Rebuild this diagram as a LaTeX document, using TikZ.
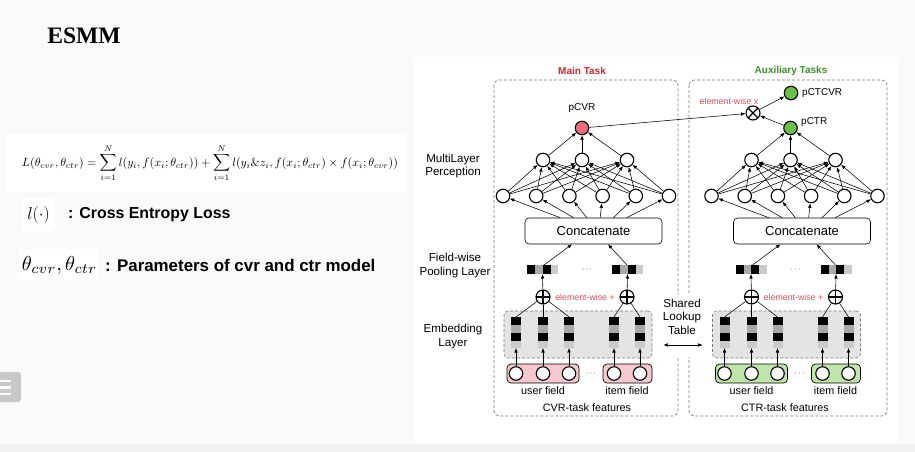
\documentclass[tikz,border=0pt]{standalone}
\usepackage{fontspec}
\usepackage{graphicx}
\usetikzlibrary{arrows.meta,calc}
\newfontfamily\arialf{Liberation Sans}
\newfontfamily\timesf{Liberation Serif}
\definecolor{redtxt}{HTML}{C62A32}
\definecolor{greentxt}{HTML}{3F8E2F}
\definecolor{ewred}{HTML}{E0505E}
\definecolor{nodered}{HTML}{EC6E7C}
\definecolor{nodegreen}{HTML}{6CBF48}
\definecolor{boxpink}{HTML}{F7C9CE}
\definecolor{boxgreen}{HTML}{BFE4AC}
\definecolor{embgray}{HTML}{E4E4E4}
\definecolor{cellA}{HTML}{A9A9A9}
\definecolor{cellB}{HTML}{CACACA}
\definecolor{dashgray}{HTML}{7A7A7A}
\definecolor{pagebg}{HTML}{FAFAFA}
\definecolor{bandbg}{HTML}{F1F1F1}
\definecolor{iconbg}{HTML}{C9C9C9}
\tikzset{
 neuron/.style={circle,draw,line width=1.1pt,minimum size=13.5pt,inner sep=0pt,fill=white},
 conn/.style={line width=0.55pt,-{Latex[length=4.5pt,width=3.6pt]}},
 plainconn/.style={line width=0.55pt},
 sidelbl/.style={font=\arialf\fontsize{11.6}{13.6}\selectfont,align=center,inner sep=0pt},
 smalllbl/.style={font=\arialf\fontsize{10.8}{12}\selectfont,inner sep=0pt},
 outlbl/.style={font=\arialf\fontsize{10}{12}\selectfont,inner sep=0pt},
 ewlbl/.style={font=\arialf\fontsize{8.8}{10}\selectfont,text=ewred,inner sep=0pt},
 tasklbl/.style={font=\arialf\bfseries\fontsize{10}{12}\selectfont,inner sep=0pt},
 taskbox/.style={draw=dashgray,dash pattern=on 3pt off 2pt,line width=0.7pt,rounded corners=5pt},
 concatbox/.style={draw,line width=0.6pt,rounded corners=4pt,minimum width=137pt,minimum height=26pt,font=\arialf\fontsize{13}{15}\selectfont,fill=white,inner sep=0pt},
 oplus/.style={circle,draw,line width=1.1pt,minimum size=14pt,inner sep=0pt,fill=white,path picture={\draw[line width=1.1pt] (path picture bounding box.north) -- (path picture bounding box.south) (path picture bounding box.west) -- (path picture bounding box.east);}},
 otimes/.style={circle,draw,line width=1.1pt,minimum size=14pt,inner sep=0pt,fill=white,path picture={\draw[line width=1.1pt] (path picture bounding box.north west) -- (path picture bounding box.south east) (path picture bounding box.south west) -- (path picture bounding box.north east);}},
 fieldbox/.style={draw,line width=0.7pt,rounded corners=4pt,inner sep=0pt},
 embbox/.style={draw=dashgray,dash pattern=on 3pt off 2pt,line width=0.6pt,rounded corners=4pt,fill=embgray,inner sep=0pt},
 ghost/.style={inner sep=0pt,outer sep=0pt},
 dotslbl/.style={inner sep=0pt,font=\fontsize{8}{8}\selectfont},
}
% vertical embedding column: name, x, top y
\newcommand{\embcol}[3]{%
 \fill[black] (#2-5,#3) rectangle (#2+5,#3+8);
 \fill[cellA] (#2-5,#3+8) rectangle (#2+5,#3+15.5);
 \fill[black] (#2-5,#3+15.5) rectangle (#2+5,#3+23.5);
 \fill[cellB] (#2-5,#3+23.5) rectangle (#2+5,#3+31);
 \node[ghost,minimum width=10pt,minimum height=31pt] (#1) at (#2,#3+15.5) {};}
% horizontal pooled vector: name, left x, top y
\newcommand{\poolvec}[3]{%
 \fill[black] (#2,#3) rectangle (#2+8,#3+9);
 \fill[cellA] (#2+8,#3) rectangle (#2+15.5,#3+9);
 \fill[black] (#2+15.5,#3) rectangle (#2+23.5,#3+9);
 \fill[cellB] (#2+23.5,#3) rectangle (#2+31,#3+9);
 \node[ghost,minimum width=31pt,minimum height=9pt] (#1) at (#2+15.5,#3+4.5) {};}
% one task tower: prefix, x shift, field fill, output fill
\newcommand{\esmmtask}[4]{%
\begin{scope}[shift={(#2,0)}]
 \node[embbox,minimum width=148pt,minimum height=47pt] (#1emb) at (578,334.5) {};
 \embcol{#1c1}{516}{317}
 \embcol{#1c2}{543}{317}
 \embcol{#1c3}{569}{317}
 \embcol{#1c4}{614}{317}
 \embcol{#1c5}{640}{317}
 \node[fieldbox,fill=#3,minimum width=72pt,minimum height=19pt] (#1uf) at (543,373.5) {};
 \node[fieldbox,fill=#3,minimum width=49pt,minimum height=19pt] (#1if) at (627.5,373.5) {};
 \foreach \k/\xx in {1/516,2/543,3/569,4/614,5/640} {
   \node[neuron] (#1i\k) at (\xx,373.5) {};
   \draw[conn] (#1i\k) -- (#1c\k.south);
 }
 \node[dotslbl] (#1dotsb) at (591,373.5) {$\cdots$};
 \node[smalllbl] (#1ufl) at (543,391) {user field};
 \node[smalllbl] (#1ifl) at (627,391) {item field};
 \node[oplus] (#1p1) at (543,297) {};
 \node[oplus] (#1p2) at (627,297) {};
 \draw[plainconn] (#1p1) -- (#1c1.north);
 \draw[plainconn] (#1p1) -- (#1c2.north);
 \draw[plainconn] (#1p1) -- (#1c3.north);
 \draw[plainconn] (#1p2) -- (#1c4.north);
 \draw[plainconn] (#1p2) -- (#1c5.north);
 \node[ewlbl] (#1ew) at (585,297) {element-wise +};
 \poolvec{#1v1}{527}{265}
 \poolvec{#1v2}{612}{265}
 \node[dotslbl] (#1dotst) at (587,269.5) {$\cdots$};
 \draw[conn] (#1p1) -- (#1v1.south);
 \draw[conn] (#1p2) -- (#1v2.south);
 \node[concatbox] (#1cat) at (593.5,231) {Concatenate};
 \draw[conn] ([xshift=1.5pt]#1v1.north) -- ([xshift=-21.5pt]#1cat.south);
 \draw[conn] ([xshift=-0.5pt]#1v2.north) -- ([xshift=14.5pt]#1cat.south);
 \foreach \k/\xx in {1/503,2/536.2,3/569.4,4/602.6,5/635.8,6/669}
   \node[neuron] (#1a\k) at (\xx,196) {};
 \node[neuron] (#1b1) at (543,160) {};
 \node[neuron] (#1b2) at (582,160) {};
 \node[neuron] (#1b3) at (627,160) {};
 \node[neuron,fill=#4] (#1out) at (582,128) {};
 \foreach \k/\xx in {1/503,2/536.2,3/569.4,4/602.6,5/635.8,6/669}
   \draw[conn] ([xshift={(\xx-586)*0.4}]#1cat.north) -- (#1a\k);
 \foreach \i in {1,...,6} \foreach \j in {1,2,3}
   \draw[conn] (#1a\i) -- (#1b\j);
 \foreach \j in {1,2,3}
   \draw[conn] (#1b\j) -- (#1out);
\end{scope}}
\begin{document}
\begin{tikzpicture}[x=1pt,y=-1pt]
\useasboundingbox (0,0) rectangle (915,452);
% page backgrounds
\fill[pagebg] (0,0) rectangle (915,452);
\fill[bandbg] (0,444) rectangle (915,452);
\fill[white] (415,57) rectangle (897,443);
\fill[white,rounded corners=3pt] (5,134) rectangle (407,192);
\fill[white,rounded corners=3pt] (22,198) rectangle (55,231);
\fill[white,rounded corners=3pt] (19,249) rectangle (99,281);
% side icon
\fill[iconbg,rounded corners=3pt] (-6,372) rectangle (21,402);
\draw[white,line width=2.2pt] (0,381) -- (11,381) (0,387.5) -- (11,387.5) (0,394) -- (11,394);
% left texts
\node[inner sep=0pt,font=\timesf\bfseries\fontsize{23.6}{26}\selectfont] (title) at (84,36) {ESMM};
\node[inner sep=0pt] (formula) at (210,163) {\resizebox{376pt}{!}{$\displaystyle L(\theta_{cvr},\theta_{ctr})=\sum_{i=1}^{N} l(y_i,f(x_i;\theta_{ctr}))+\sum_{i=1}^{N} l(y_i\&z_i,f(x_i;\theta_{ctr})\times f(x_i;\theta_{cvr}))$}};
\node[inner sep=0pt,font=\fontsize{16}{18}\selectfont] (lsym) at (38.5,215) {$l(\cdot)$};
\node[inner sep=0pt,anchor=west,font=\arialf\bfseries\fontsize{15.9}{18}\selectfont] (ldesc) at (68,215) {: Cross Entropy Loss};
\node[inner sep=0pt] (thsym) at (59.5,265) {\resizebox{75pt}{!}{$\theta_{cvr},\theta_{ctr}$}};
\node[inner sep=0pt,anchor=west,font=\arialf\bfseries\fontsize{16.9}{18}\selectfont] (thdesc) at (105,265) {: Parameters of cvr and ctr model};
% task boxes
\draw[taskbox] (494,80) rectangle (678,416);
\draw[taskbox] (689,80) rectangle (887,416);
\node[tasklbl,text=redtxt] (maintask) at (582,71) {Main Task};
\node[tasklbl,text=greentxt] (auxtask) at (791,71) {Auxiliary Tasks};
% towers
\esmmtask{m}{0}{boxpink}{nodered}
\esmmtask{a}{208.5}{boxgreen}{nodegreen}
\node[smalllbl] (mfeat) at (587,408) {CVR-task features};
\node[smalllbl] (afeat) at (785,408) {CTR-task features};
% side labels
\node[sidelbl] (mlpl) at (453,166) {MultiLayer\\Perception};
\node[sidelbl] (pooll) at (455,265.5) {Field-wise\\Pooling Layer};
\node[sidelbl] (embl) at (453,336.5) {Embedding\\Layer};
% shared lookup
\node[ghost,fill=white,minimum width=46pt,minimum height=62pt] (sltbg) at (682,326) {};
\node[sidelbl] (slt) at (682,316.5) {Shared\\Lookup\\Table};
\draw[line width=0.6pt,{Latex[length=4.5pt,width=3.6pt]}-{Latex[length=4.5pt,width=3.6pt]}] ([xshift=11pt,yshift=-10.5pt]memb.east) -- ([xshift=-9.5pt,yshift=-10.5pt]aemb.west);
% outputs
\node[outlbl] (pcvrl) at (582,108) {pCVR};
\node[outlbl,anchor=west] (pctrl) at (801,122) {pCTR};
\node[neuron,fill=nodegreen] (ctcvr) at (791,93) {};
\node[outlbl,anchor=west] (pctcvrl) at (802,93) {pCTCVR};
\node[otimes] (mul) at (753,113) {};
\node[ewlbl] (ewx) at (729,101) {element-wise x};
\draw[conn] (mout) -- (mul);
\draw[conn] (aout) -- (mul);
\draw[conn] (mul) -- (ctcvr);
\end{tikzpicture}
\end{document}
